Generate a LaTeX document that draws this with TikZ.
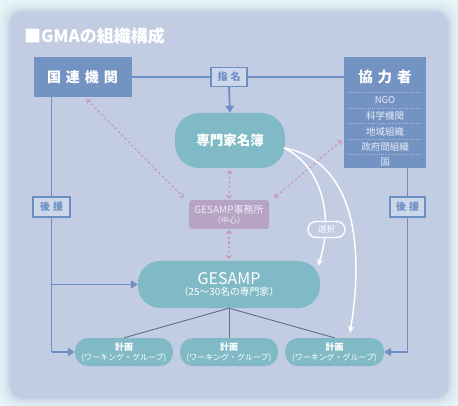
\documentclass[tikz,border=0pt]{standalone}
\usepackage{fontspec}
\setmainfont{Noto Sans CJK JP}
\usetikzlibrary{arrows.meta,calc}
\definecolor{bgout}{HTML}{E6F6F8}
\definecolor{panel}{HTML}{C2CCE3}
\definecolor{boxblue}{HTML}{7393C2}
\definecolor{lineblue}{HTML}{6D8EC3}
\definecolor{teal}{HTML}{80BAC6}
\definecolor{mauve}{HTML}{B7A4C5}
\definecolor{pinkdot}{HTML}{C99AB8}
\definecolor{lblfill}{HTML}{CDD7EA}
\definecolor{conn}{HTML}{5C6E92}
\definecolor{listtxt}{HTML}{E8ECF8}
\definecolor{septxt}{HTML}{A9BDE0}
\definecolor{jimtxt}{HTML}{F0E9F5}
\newcommand\myplantxt{\fontsize{8}{9}\selectfont}
\tikzset{
  bluebox/.style={fill=boxblue, inner sep=0pt, text=white, font=\bfseries\fontsize{14}{16}\selectfont},
  lblbox/.style={fill=lblfill, draw=lineblue, line width=1.4pt, inner sep=0pt, text=lineblue, font=\bfseries\fontsize{10}{12}\selectfont},
  pill/.style={fill=teal, inner sep=0pt, text=white, align=center},
  blueline/.style={draw=lineblue, line width=1.8pt},
  bluearrow/.style={blueline, -{Triangle[length=7pt,width=8pt]}},
  dotarrow/.style={draw=pinkdot, line width=1.3pt, dash pattern=on 2.2pt off 2.6pt, {Straight Barb[length=2.5pt,width=5pt]}-{Straight Barb[length=2.5pt,width=5pt]}, shorten <=3pt, shorten >=3pt},
  whitearrow/.style={draw=white, line width=1.5pt, -{Stealth[length=7pt,width=6pt]}},
  connline/.style={draw=conn, line width=0.9pt},
  listitem/.style={text=listtxt, inner sep=0pt, font=\fontsize{9.5}{11}\selectfont},
  sepline/.style={draw=septxt, line width=0.8pt, dash pattern=on 1pt off 1.2pt}
}
\begin{document}
\begin{tikzpicture}[x=1pt,y=-1pt]
\useasboundingbox (0,0) rectangle (458,406);
\fill[bgout] (0,0) rectangle (458,406);
\foreach \d/\o in {10/0.12,7/0.18,4/0.3,2/0.45} {
  \fill[panel,opacity=\o,rounded corners=16pt] (10-\d,12-\d) rectangle (448+\d,398+\d);
}
\fill[panel,rounded corners=12pt] (10,12) rectangle (448,398);

% title
\node[anchor=west, inner sep=0pt, text=white, font=\bfseries\fontsize{17}{19}\selectfont] (title) at (24,36) {■GMAの組織構成};

% main boxes
\node[bluebox, minimum width=98, minimum height=40] (kokuren) at (82.5,77) {国\hspace{5pt}連\hspace{5pt}機\hspace{5pt}関};
\node[fill=boxblue, inner sep=0pt, minimum width=82, minimum height=111] (kyoryoku) at (385,112.5) {};
\node[inner sep=0pt, text=white, font=\bfseries\fontsize{14.5}{16}\selectfont] (kyotitle) at (385,77) {協\hspace{5pt}力\hspace{5pt}者};
\foreach \yy [count=\i] in {92,108,123.5,139,154.5} {
  \coordinate (sa\i) at (348,\yy);
  \coordinate (sb\i) at (422,\yy);
  \draw[sepline] (sa\i) -- (sb\i);
}
\node[listitem] (li1) at (385,100.5) {NGO};
\node[listitem] (li2) at (385,116) {科学機関};
\node[listitem] (li3) at (385,131.5) {地域組織};
\node[listitem] (li4) at (385,147) {政府間組織};
\node[listitem] (li5) at (385,162) {国};

% nomination
\node[lblbox, minimum width=36, minimum height=19] (shimei) at (229,77) {指\hspace{3pt}名};
\draw[blueline] (kokuren.east) -- (shimei.west);
\draw[blueline] (shimei.east) -- (shimei -| kyoryoku.west);

\node[pill, rounded corners=24pt, minimum width=110, minimum height=55, font=\bfseries\fontsize{13.5}{15}\selectfont] (meibo) at (230,140.5) {専門家名簿};
\draw[bluearrow] (shimei.south) -- (meibo.north);

\node[fill=mauve, rounded corners=3pt, inner sep=0pt, minimum width=80, minimum height=29, text=jimtxt, align=center, font=\fontsize{10}{11}\selectfont] (jimusho) at (229,214.5) {GESAMP事務所\\[-1pt]{\fontsize{8}{9}\selectfont（中心）}};

\node[pill, rounded corners=22pt, minimum width=182, minimum height=47] (gesamp) at (229,284.5) {{\fontsize{16}{17}\selectfont GESAMP}\\[-1pt]{\fontsize{9.8}{11}\selectfont（25～30名の専門家）}};

\node[pill, rounded corners=13pt, minimum width=98, minimum height=28] (planL) at (124,352) {{\bfseries\fontsize{9}{10}\selectfont 計画}\\[-2pt]{\myplantxt(ワーキング・グループ)}};
\node[pill, rounded corners=13pt, minimum width=98, minimum height=28] (planM) at (229,352) {{\bfseries\fontsize{9}{10}\selectfont 計画}\\[-2pt]{\myplantxt(ワーキング・グループ)}};
\node[pill, rounded corners=13pt, minimum width=99, minimum height=28] (planR) at (334.5,352) {{\bfseries\fontsize{9}{10}\selectfont 計画}\\[-2pt]{\myplantxt(ワーキング・グループ)}};

\draw[connline] (gesamp.south) -- (planL.north);
\draw[connline] (gesamp.south) -- (planM.north);
\draw[connline] (gesamp.south) -- (planR.north);

% support lines
\coordinate (L1) at (51.5,284.5);
\coordinate (L2) at (51.5,352);
\coordinate (R2) at (407.5,352);
\node[lblbox, minimum width=37, minimum height=20] (koenL) at (51.5,207) {後\hspace{3pt}援};
\node[lblbox, minimum width=35, minimum height=20] (koenR) at (407.5,207) {後\hspace{3pt}援};
\draw[blueline] (kokuren.south -| koenL) -- (koenL.north);
\draw[blueline] (koenL.south) -- (L2);
\draw[bluearrow] (L1) -- (gesamp.west);
\draw[bluearrow] (L2) -- (planL.west);
\draw[blueline] (kyoryoku.south -| koenR) -- (koenR.north);
\draw[blueline] (koenR.south) -- (R2);
\draw[bluearrow] (R2) -- (planR.east);

% dotted arrows
\draw[dotarrow] ([xshift=2pt]kokuren.south) -- ([xshift=-3pt]jimusho.north west);
\draw[dotarrow] ([yshift=-26pt]kyoryoku.west) -- ([xshift=3pt]jimusho.north east);
\draw[dotarrow, shorten <=2pt, shorten >=1pt] (meibo.south) -- (jimusho.north);
\draw[dotarrow, shorten <=1pt, shorten >=2pt] (jimusho.south) -- (gesamp.north);

% selection curves
\coordinate (S) at (284,148);
\coordinate (G1) at (318,266);
\coordinate (P1) at (350,333);
\draw[whitearrow] (S) .. controls (320,165) and (335,215) .. (G1);
\draw[whitearrow] (S) .. controls (342,158) and (368,222) .. (P1);
\node[fill=panel, draw=white, line width=1.3pt, rounded corners=8pt, minimum width=37, minimum height=16, inner sep=0pt, text=white, font=\fontsize{8.5}{10}\selectfont] (sentaku) at (326.5,229.5) {選択};
\end{tikzpicture}
\end{document}
